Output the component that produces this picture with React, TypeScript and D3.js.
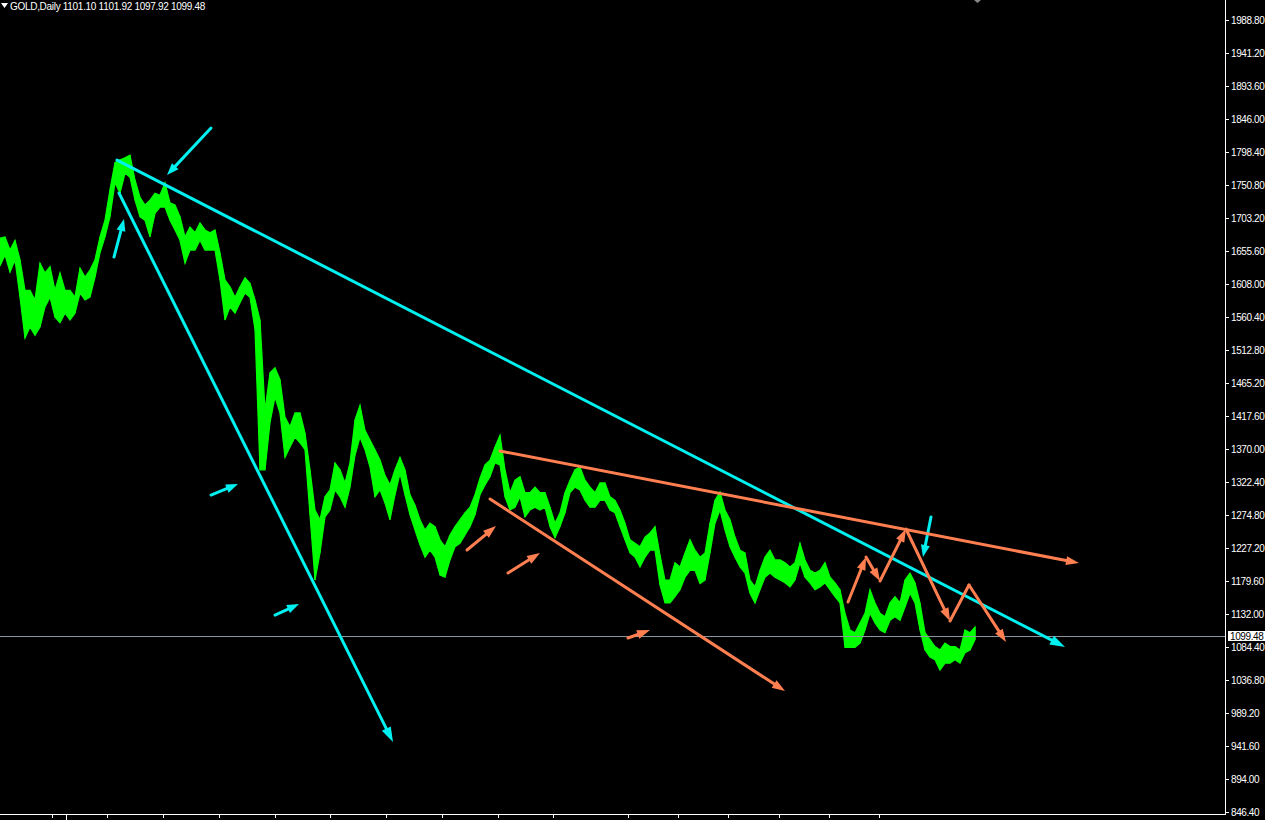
import React from "react";
import * as d3 from "d3";

const W = 1265;
const H = 820;
const STEP = 5; // days between samples

// sampled daily highs / lows (every 5 bars)
const highs = [
  1674, 1676, 1657, 1671, 1643, 1599, 1599, 1585, 1638, 1624, 1633, 1599, 1624, 1599, 1599, 1589, 1631, 1618, 1628, 1643,
  1676, 1700, 1744, 1783, 1787, 1790, 1794, 1758, 1733, 1722, 1729, 1739, 1736, 1754, 1725, 1722, 1705, 1676, 1690, 1682,
  1696, 1686, 1682, 1686, 1653, 1614, 1604, 1589, 1604, 1617, 1609, 1585, 1556, 1426, 1480, 1487, 1470, 1416, 1402, 1422,
  1422, 1393, 1340, 1282, 1268, 1301, 1311, 1350, 1340, 1321, 1350, 1412, 1433, 1397, 1383, 1369, 1354, 1332, 1318, 1340,
  1358, 1340, 1304, 1289, 1268, 1253, 1263, 1258, 1239, 1229, 1246, 1258, 1268, 1278, 1286, 1304, 1328, 1347, 1354, 1373,
  1390, 1340, 1307, 1325, 1330, 1307, 1307, 1315, 1307, 1307, 1286, 1263, 1278, 1307, 1325, 1340, 1344, 1325, 1315, 1307,
  1321, 1321, 1301, 1296, 1282, 1263, 1239, 1234, 1229, 1243, 1249, 1258, 1217, 1181, 1181, 1206, 1200, 1220, 1239, 1224,
  1214, 1220, 1263, 1296, 1308, 1282, 1268, 1243, 1224, 1220, 1181, 1171, 1195, 1214, 1224, 1210, 1210, 1206, 1200, 1206,
  1234, 1210, 1195, 1191, 1195, 1206, 1185, 1177, 1167, 1133, 1109, 1105, 1119, 1133, 1167, 1148, 1133, 1128, 1148, 1157,
  1148, 1181, 1191, 1177, 1148, 1105, 1095, 1085, 1080, 1090, 1085, 1085, 1080, 1109, 1105, 1113,
];
const lows = [
  1634, 1650, 1625, 1643, 1589, 1530, 1546, 1534, 1546, 1575, 1589, 1560, 1552, 1566, 1556, 1566, 1595, 1585, 1589, 1618,
  1653, 1676, 1705, 1754, 1739, 1768, 1762, 1729, 1705, 1700, 1676, 1710, 1719, 1719, 1700, 1686, 1671, 1638, 1657, 1657,
  1671, 1657, 1657, 1657, 1614, 1556, 1575, 1566, 1581, 1595, 1589, 1542, 1340, 1340, 1408, 1445, 1422, 1358, 1373, 1387,
  1379, 1369, 1275, 1181, 1220, 1272, 1282, 1311, 1301, 1286, 1315, 1361, 1387, 1369, 1344, 1301, 1311, 1292, 1268, 1304,
  1335, 1304, 1275, 1253, 1232, 1214, 1224, 1214, 1188, 1185, 1210, 1229, 1234, 1246, 1258, 1275, 1304, 1318, 1330, 1350,
  1347, 1301, 1282, 1286, 1301, 1272, 1282, 1286, 1282, 1286, 1258, 1242, 1258, 1278, 1307, 1315, 1311, 1296, 1286, 1286,
  1296, 1296, 1282, 1278, 1258, 1239, 1220, 1214, 1200, 1214, 1224, 1224, 1174, 1148, 1148, 1157, 1167, 1185, 1195, 1195,
  1176, 1181, 1220, 1263, 1282, 1253, 1229, 1214, 1200, 1191, 1162, 1148, 1167, 1185, 1191, 1185, 1181, 1177, 1171, 1181,
  1206, 1185, 1177, 1167, 1171, 1177, 1167, 1157, 1148, 1084, 1084, 1084, 1090, 1109, 1133, 1119, 1109, 1105, 1123, 1128,
  1123, 1142, 1162, 1148, 1109, 1080, 1070, 1066, 1051, 1061, 1061, 1066, 1061, 1076, 1080, 1095,
];

const priceTicks = d3.range(25).map((k) => 846.4 + k * 47.6);
const lastPrice = 1099.48;
const symbol = "GOLD,Daily";
const ohlc = [1101.1, 1101.92, 1097.92, 1099.48];
const dateTicks = [52, 107, 163, 219, 275, 330, 386, 442, 498, 553, 628, 678, 728, 779, 829, 879];
const labelTick = 66;

// annotations: [day0, price0, day1, price1, arrowhead]
const cyanLines: [number, number, number, number, boolean][] = [
  [117, 1786.8, 1065, 1084.4, true],
  [119, 1739.2, 393, 947.3, true],
  [211, 1833.0, 167, 1765.2, true],
  [114, 1646.9, 124, 1701.7, true],
  [211, 1303.6, 238, 1319.5, true],
  [275, 1130.5, 299, 1146.4, true],
  [931, 1271.9, 923, 1214.2, true],
];
const orangeLines: [number, number, number, number, boolean][] = [
  [500, 1367.1, 1079, 1205.5, true],
  [490, 1297.9, 785, 1020.9, true],
  [467, 1224.3, 496, 1258.9, true],
  [508, 1191.1, 540, 1220.0, true],
  [628, 1097.4, 650, 1108.9, true],
  [848, 1149.3, 866, 1214.2, true],
  [866, 1214.2, 880, 1179.6, true],
  [880, 1179.6, 906, 1254.6, true],
  [906, 1254.6, 950, 1121.9, true],
  [950, 1121.9, 969, 1173.8, false],
  [969, 1173.8, 1006, 1091.6, true],
];

const GREEN = "#00ff00";
const CYAN = "#00f0f0";
const ORANGE = "#ff7f50";

export default function App() {
  const x = d3.scaleLinear().domain([0, 975]).range([0, 975]);
  const y = d3.scaleLinear().domain([846.4, 1988.8]).range([812, 20]);
  const axisX = 1225;
  const axisY = 814;

  const idx = d3.range(highs.length);
  const area = d3
    .area<number>()
    .x((i) => x(i * STEP))
    .y0((i) => y(lows[i]))
    .y1((i) => y(highs[i]))
    .curve(d3.curveLinear);

  const arrow = (l: [number, number, number, number, boolean], color: string, key: string, len = 13, hw = 5) => {
    const x0 = x(l[0]), y0 = y(l[1]), x1 = x(l[2]), y1 = y(l[3]);
    const dx = x1 - x0, dy = y1 - y0;
    const d = Math.hypot(dx, dy);
    const ux = dx / d, uy = dy / d;
    const nx = -uy, ny = ux;
    const ex = l[4] ? x1 - ux * len * 0.7 : x1;
    const ey = l[4] ? y1 - uy * len * 0.7 : y1;
    const bx = x1 - ux * len, by = y1 - uy * len;
    return (
      <g key={key}>
        <line x1={x0} y1={y0} x2={ex} y2={ey} stroke={color} strokeWidth={3} strokeLinecap="round" />
        {l[4] && (
          <polygon
            points={`${x1},${y1} ${bx + nx * hw},${by + ny * hw} ${bx - nx * hw},${by - ny * hw}`}
            fill={color}
          />
        )}
      </g>
    );
  };

  const yLast = y(lastPrice);
  const header = `${symbol}  ${ohlc.map((v) => v.toFixed(2)).join(" ")}`;

  return (
    <svg
      width={W}
      height={H}
      style={{ position: "absolute", left: 0, top: 0, display: "block", background: "#000" }}
      fontFamily="'Liberation Sans', Arial, sans-serif"
    >
      <rect x={0} y={0} width={W} height={H} fill="#000" />
      <defs>
        <clipPath id="plot">
          <rect x={0} y={0} width={axisX} height={axisY} />
        </clipPath>
      </defs>
      <g clipPath="url(#plot)">
        <path d={area(idx) ?? ""} fill={GREEN} stroke={GREEN} strokeWidth={1.2} />
        {idx.map((i) => (
          <line
            key={i}
            x1={x(i * STEP)}
            x2={x(i * STEP)}
            y1={y(highs[i])}
            y2={y(lows[i])}
            stroke={GREEN}
            strokeWidth={1}
          />
        ))}
        <line x1={0} x2={axisX} y1={yLast} y2={yLast} stroke="#8f99a3" strokeWidth={1} />
        {cyanLines.map((l, i) => arrow(l, CYAN, "c" + i, i < 2 ? 15 : 12, i < 2 ? 5 : 4.5))}
        {orangeLines.map((l, i) => arrow(l, ORANGE, "o" + i, 13, 4.5))}
      </g>
      {/* header */}
      <polygon points="1,3 8,3 4.5,8" fill="#fff" />
      <text x={10} y={10} fill="#fff" fontSize={10} letterSpacing={-0.3}>
        {header}
      </text>
      <polygon points="974,0 981,0 977.5,3" fill="#888" />
      {/* axes */}
      <line x1={axisX + 0.5} x2={axisX + 0.5} y1={0} y2={axisY} stroke="#fff" strokeWidth={1} />
      <line x1={0} x2={axisX + 1} y1={axisY + 0.5} y2={axisY + 0.5} stroke="#fff" strokeWidth={1} />
      {priceTicks.map((p) => (
        <g key={p}>
          <line x1={axisX} x2={axisX + 4} y1={Math.round(y(p)) + 0.5} y2={Math.round(y(p)) + 0.5} stroke="#fff" />
          <text x={axisX + 6} y={y(p) + 3.5} fill="#fff" fontSize={10} letterSpacing={-0.4}>
            {p.toFixed(2)}
          </text>
        </g>
      ))}
      {dateTicks.map((d) => (
        <line key={d} x1={x(d) + 0.5} x2={x(d) + 0.5} y1={axisY} y2={axisY + 4} stroke="#fff" />
      ))}
      <line x1={x(labelTick) + 0.5} x2={x(labelTick) + 0.5} y1={axisY} y2={H} stroke="#fff" />
      <rect x={1228} y={631} width={37} height={10} fill="#fff" />
      <text x={1230} y={640} fill="#000" fontSize={10} letterSpacing={-0.4}>
        {lastPrice.toFixed(2)}
      </text>
    </svg>
  );
}
